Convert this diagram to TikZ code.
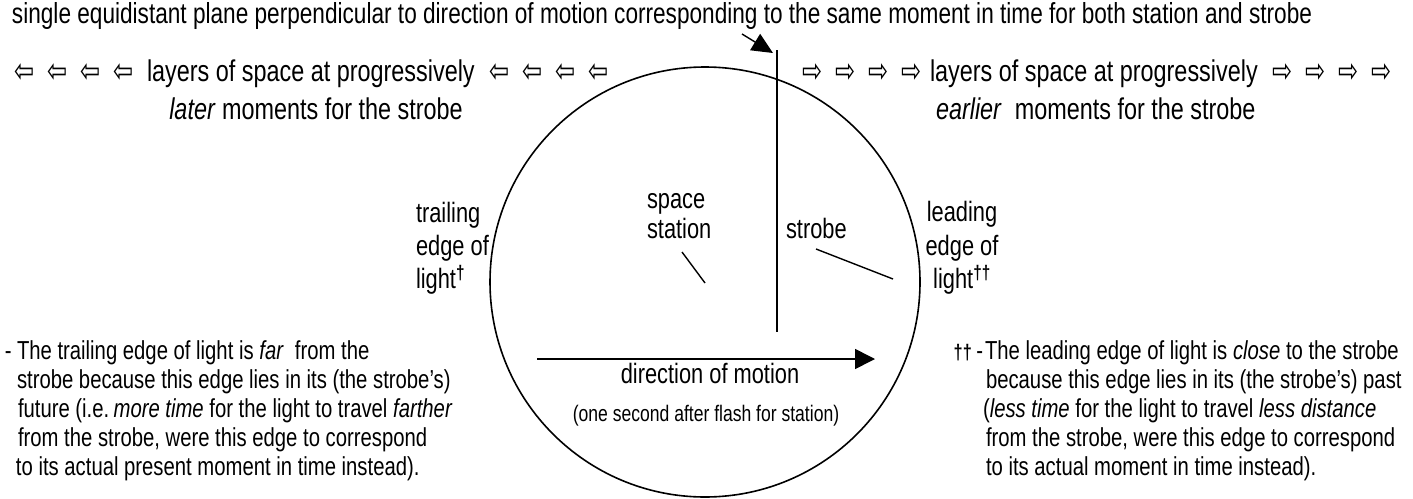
\documentclass[tikz,border=0pt]{standalone}
\usepackage{fontspec}
\setmainfont{Liberation Sans}[FakeStretch=0.78]
\newfontfamily\arrowfont{DejaVu Sans}
\usetikzlibrary{arrows.meta}
\newcommand\LA{\makebox[20pt][c]{\raisebox{-1pt}{\scalebox{1}[1.4]{\arrowfont\fontsize{24}{24}\selectfont ⇦}}}}
\newcommand\RA{\makebox[20pt][c]{\raisebox{-1pt}{\scalebox{1}[1.4]{\arrowfont\fontsize{24}{24}\selectfont ⇨}}}}
\newcommand\agap{\hspace{13pt}}
\begin{document}
\begin{tikzpicture}[x=1pt,y=-1pt,
  txt/.style={inner sep=0pt, outer sep=0pt},
  big/.style={font=\fontsize{29}{33}\selectfont},
  lay/.style={font=\fontsize{30}{34}\selectfont},
  lbl/.style={font=\fontsize{28}{33}\selectfont},
  fn/.style={font=\fontsize{26}{29}\selectfont},
  sml/.style={font=\fontsize{22.5}{26}\selectfont},
  ln/.style={line width=1.6pt},
  thin/.style={line width=1.4pt}]
\path[fill=white] (0,0) rectangle (1413,498);
\useasboundingbox (0,0) rectangle (1413,498);

% light sphere
\node[circle, draw, ln, minimum size=430pt, inner sep=0pt] (light) at (705,282) {};

% plane of simultaneity
\coordinate (planetop) at (777,50);
\coordinate (planebot) at (777,332);
\draw[ln] (planetop) -- (planebot);

% title and pointer
\node[txt,big,anchor=mid west] (title) at (12,20.5) {single equidistant plane perpendicular to direction of motion corresponding to the same moment in time for both station and strobe};
\coordinate (ptrstart) at (742,34);
\coordinate (ptrend) at (773,53);
\draw[thin,-{Triangle[length=21pt,width=19pt]}] (ptrstart) -- (ptrend);

% layers
\node[txt,lay,anchor=mid west] (laterA) at (15,79) {\LA\agap\LA\agap\LA\agap\LA\agap layers of space at progressively\hspace{15pt}\LA\agap\LA\agap\LA\agap\LA};
\node[txt,lay,anchor=mid] (laterB) at (316,117) {\textit{later} moments for the strobe};
\node[txt,lay,anchor=mid west] (earlierA) at (803,79) {\RA\agap\RA\agap\RA\agap\RA\hspace{8pt}layers of space at progressively\hspace{15pt}\RA\agap\RA\agap\RA\agap\RA};
\node[txt,lay,anchor=mid west] (earlierB) at (936,117) {\textit{earlier}\ \ moments for the strobe};

% edge labels
\node[txt,lbl,anchor=mid west] (trailA) at (416,220) {trailing};
\node[txt,lbl,anchor=mid west] (trailB) at (416,253) {edge of};
\node[txt,lbl,anchor=mid west] (trailC) at (416,286) {light\textsuperscript{\bfseries †}};
\node[txt,lbl,anchor=mid] (leadA) at (962,219) {leading};
\node[txt,lbl,anchor=mid] (leadB) at (962,253) {edge of};
\node[txt,lbl,anchor=mid] (leadC) at (962,286) {light\textsuperscript{\bfseries ††}};

% station and strobe
\node[txt,lbl,anchor=mid west] (spaceA) at (647,206) {space};
\node[txt,lbl,anchor=mid west] (spaceB) at (647,236) {station};
\coordinate (stpA) at (682,252);
\coordinate (stpB) at (705,283);
\draw[thin] (stpA) -- (stpB);
\node[txt,lbl,anchor=mid west] (strobe) at (786,236) {strobe};
\coordinate (sbpA) at (816,249);
\coordinate (sbpB) at (893,279);
\draw[thin] (sbpA) -- (sbpB);

% motion
\coordinate (mstart) at (537,359);
\coordinate (mend) at (875,359);
\draw[ln,-{Triangle[length=20pt,width=20pt]}] (mstart) -- (mend);
\node[txt,lbl,anchor=mid] (motion) at (710,381) {direction of motion};
\node[txt,sml,anchor=mid] (onesec) at (706,419) {(one second after flash for station)};

% left footnote
\node[txt,fn,anchor=mid west] (fnLdash) at (5,357) {-};
\node[txt,fn,anchor=mid west] (fnL1) at (17,357) {The trailing edge of light is \textit{far}\ \ from the};
\node[txt,fn,anchor=mid west] (fnL2) at (17,386) {strobe because this edge lies in its (the strobe’s)};
\node[txt,fn,anchor=mid west] (fnL3) at (18,415) {future (i.e.\,\textit{more time} for the light to travel \textit{farther}};
\node[txt,fn,anchor=mid west] (fnL4) at (18,444) {from the strobe, were this edge to correspond};
\node[txt,fn,anchor=mid west] (fnL5) at (16,473) {to its actual present moment in time instead).};

% right footnote
\node[txt,fn,anchor=mid east] (fnRmark) at (983,357) {{\fontsize{21}{21}\selectfont\bfseries ††}\,-};
\node[txt,fn,anchor=mid west] (fnR1) at (985,357) {The leading edge of light is \textit{close} to the strobe};
\node[txt,fn,anchor=mid west] (fnR2) at (986,386) {because this edge lies in its (the strobe’s) past};
\node[txt,fn,anchor=mid west] (fnR3) at (983,415) {(\textit{less time} for the light to travel \textit{less distance}};
\node[txt,fn,anchor=mid west] (fnR4) at (986,444) {from the strobe, were this edge to correspond};
\node[txt,fn,anchor=mid west] (fnR5) at (986,473) {to its actual moment in time instead).};
\end{tikzpicture}
\end{document}
